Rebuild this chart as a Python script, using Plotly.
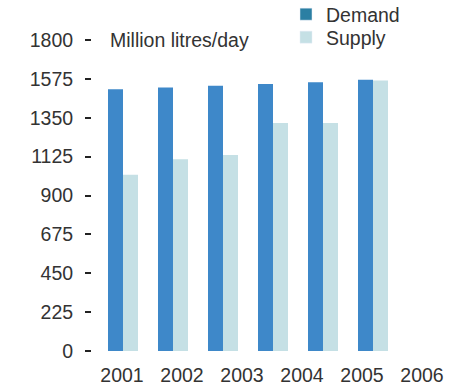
import plotly.graph_objects as go

years = [2001, 2002, 2003, 2004, 2005, 2006]
demand = [1515, 1525, 1535, 1545, 1555, 1570]
supply = [1020, 1110, 1135, 1320, 1320, 1565]
y_ticks = [0, 225, 450, 675, 900, 1125, 1350, 1575, 1800]

DEMAND_COLOR = "#3e88c9"
SUPPLY_COLOR = "#c5e0e5"
FONT = "Liberation Sans, Arial, sans-serif"
FS = 19.5
TXT = "#333333"
W, H = 451, 391
ML, MR, MT, MB = 92, 11, 40, 40
PW = W - ML - MR
PH = H - MT - MB


def py(p):
    """pixel row -> paper y"""
    return (H - MB - p) / PH


fig = go.Figure()
fig.add_trace(go.Bar(x=years, y=demand, name="Demand", marker_color=DEMAND_COLOR,
                     marker_line_width=0, showlegend=False))
fig.add_trace(go.Bar(x=years, y=supply, name="Supply", marker_color=SUPPLY_COLOR,
                     marker_line_width=0, showlegend=False))
# legend entries (on the label axis so they do not take bar slots)
fig.add_trace(go.Bar(x=[None], y=[None], name="Demand", marker_color="#2b7fa3",
                     xaxis="x2", legend="legend"))
fig.add_trace(go.Bar(x=[None], y=[None], name="Supply", marker_color=SUPPLY_COLOR,
                     xaxis="x2", legend="legend2"))
# carrier for the year labels axis
fig.add_trace(go.Scatter(x=years, y=[0] * len(years), xaxis="x2", mode="markers",
                         marker=dict(opacity=0), showlegend=False, hoverinfo="skip"))

bar_unit = 50.0
lab_unit = 60.0
x0 = 2001 - (123 - ML) / bar_unit
x20 = 2001 - (122 - ML) / lab_unit

leg_common = dict(x=(286 - ML) / PW, xanchor="left", yanchor="top",
                  font=dict(size=FS, color=TXT), bgcolor="rgba(0,0,0,0)",
                  itemwidth=30)

fig.update_layout(
    width=W, height=H,
    margin=dict(l=ML, r=MR, t=MT, b=MB, autoexpand=False),
    paper_bgcolor="white", plot_bgcolor="white",
    font=dict(family=FONT, size=FS, color=TXT),
    barmode="group", bargap=0.4, bargroupgap=0,
    xaxis=dict(range=[x0, x0 + PW / bar_unit], showticklabels=False, showgrid=False,
               zeroline=False, showline=False, ticks=""),
    xaxis2=dict(range=[x20, x20 + PW / lab_unit], overlaying="x", side="bottom",
                anchor="y", tickvals=years, ticktext=[str(y) for y in years],
                showgrid=False, zeroline=False, showline=False, ticks="",
                ticklabelstandoff=10, tickfont=dict(size=FS, color=TXT)),
    yaxis=dict(range=[0, 1800], tickvals=y_ticks, showgrid=False, zeroline=False,
               showline=False, ticks="outside", ticklen=6, tickwidth=2, tickcolor="#222222",
               ticklabelstandoff=8, tickfont=dict(size=FS, color=TXT)),
    legend=dict(y=py(-5), **leg_common),
    legend2=dict(y=py(18), **leg_common),
    annotations=[dict(text="Million litres/day", x=(108 - ML) / PW, y=1, xref="paper",
                      yref="paper", xanchor="left", yanchor="middle", showarrow=False,
                      font=dict(size=FS, color=TXT))],
)

fig.write_html("out.html")
